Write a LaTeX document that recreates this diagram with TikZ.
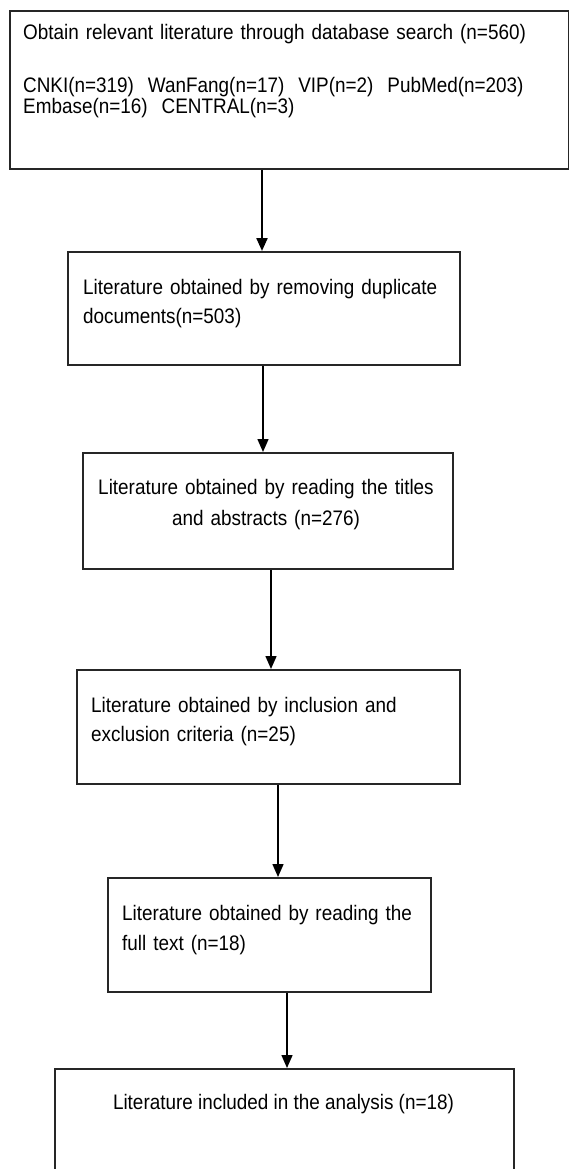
\documentclass[tikz,border=0pt]{standalone}
\usepackage{fontspec}
\setmainfont{Liberation Sans}[FakeStretch=0.9]
\usetikzlibrary{arrows.meta}

\begin{document}
\begin{tikzpicture}[x=1pt, y=-1pt,
    box/.style={draw=black!85, line width=1.8pt, anchor=north west, inner sep=0pt},
    txt/.style={inner sep=0pt, font=\fontsize{21}{29}\selectfont},
    link/.style={line width=1.5pt, -{Triangle[length=13pt, width=11pt]}}]
    \useasboundingbox (0, 0) rectangle (569, 1169);
    \clip (0, 0) rectangle (569, 1169);
    % boxes
    \node[box, minimum width=559pt, minimum height=158pt] (b1) at (9, 10) {};
    \node[box, minimum width=392pt, minimum height=113pt] (b2) at (67, 251) {};
    \node[box, minimum width=370pt, minimum height=116pt] (b3) at (82, 452) {};
    \node[box, minimum width=383pt, minimum height=114pt] (b4) at (76, 669) {};
    \node[box, minimum width=323pt, minimum height=114pt] (b5) at (107, 877) {};
    \node[box, minimum width=459pt, minimum height=130pt] (b6) at (54, 1068) {};
    % texts
    \node[txt, anchor=base west, text width=540pt, align=left] (t1) at (23, 40)
        {Obtain relevant literature through database search (n=560)\\[24pt]
         CNKI(n=319) \ WanFang(n=17) \ VIP(n=2) \ PubMed(n=203)\\[-8pt]
         Embase(n=16) \ CENTRAL(n=3)};
    \node[txt, anchor=base west, text width=354pt, align=justify] (t2) at (83, 294)
        {Literature obtained by removing duplicate\linebreak documents(n=503)};
    \node[txt, anchor=base, text width=360pt, align=center, font=\fontsize{21}{31}\selectfont] (t3) at (266, 494)
        {Literature obtained by reading the titles\\and abstracts (n=276)};
    \node[txt, anchor=base west, text width=360pt, align=left] (t4) at (91, 712)
        {Literature obtained by inclusion and\\exclusion criteria (n=25)};
    \node[txt, anchor=base west, text width=300pt, align=left, font=\fontsize{21}{30}\selectfont] (t5) at (122, 920)
        {Literature obtained by reading the\\full text (n=18)};
    \node[txt, anchor=base] (t6) at (283.5, 1109)
        {Literature included in the analysis (n=18)};
    % arrows
    \coordinate (x1) at (262, 0);
    \coordinate (x2) at (263, 0);
    \coordinate (x3) at (271, 0);
    \coordinate (x4) at (278, 0);
    \coordinate (x5) at (287, 0);
    \draw[link, line width=2.2pt] (b1.south -| x1) -- (b2.north -| x1);
    \draw[link] (b2.south -| x2) -- (b3.north -| x2);
    \draw[link] (b3.south -| x3) -- (b4.north -| x3);
    \draw[link] (b4.south -| x4) -- (b5.north -| x4);
    \draw[link] (b5.south -| x5) -- (b6.north -| x5);
\end{tikzpicture}
\end{document}
